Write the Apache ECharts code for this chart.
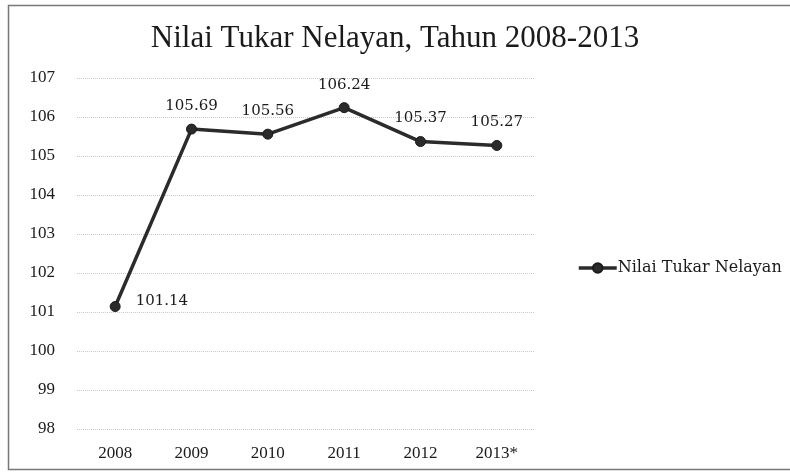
<!DOCTYPE html>
<html>
<head>
<meta charset="utf-8">
<script src="https://cdn.jsdelivr.net/npm/echarts@6/dist/echarts.min.js"></script>
<style>
html,body{margin:0;padding:0;background:#fff;}
#chart{width:790px;height:472px;}
</style>
</head>
<body>
<div id="chart"></div>
<script>
const titleText = 'Nilai Tukar Nelayan, Tahun 2008-2013';
const seriesName = 'Nilai Tukar Nelayan';
const categories = ['2008', '2009', '2010', '2011', '2012', '2013*'];
const values = [101.14, 105.69, 105.56, 106.24, 105.37, 105.27];
const yMin = 98, yMax = 107, yStep = 1;

const FONT = '"Liberation Serif", "Times New Roman", serif';
const FONT2 = '"DejaVu Serif", serif';
const chart = echarts.init(document.getElementById('chart'));

const data = values.map((v, i) => {
  if (i === 0) {
    return { value: v, label: { position: 'right', distance: 15, offset: [0, -5] } };
  }
  return v;
});

chart.setOption({
  animation: false,
  backgroundColor: '#ffffff',
  title: {
    text: titleText,
    left: 'center',
    top: 18,
    textStyle: { fontFamily: FONT, fontSize: 31, fontWeight: 'normal', color: '#1a1a1a' }
  },
  legend: {
    data: [seriesName],
    orient: 'vertical',
    left: 572,
    top: 255,
    itemWidth: 38,
    itemHeight: 12,
    itemGap: 4,
    lineStyle: { width: 3.5, color: '#2b2b2b' },
    textStyle: { fontFamily: FONT2, fontSize: 16, color: '#1a1a1a', padding: [0, 0, 0, -4] }
  },
  grid: { left: 77, right: 255, top: 78, bottom: 43 },
  xAxis: {
    type: 'category',
    data: categories,
    boundaryGap: true,
    axisLine: { show: false },
    axisTick: { show: false },
    axisLabel: { fontFamily: FONT, fontSize: 17, color: '#1a1a1a', margin: 16 }
  },
  yAxis: {
    type: 'value',
    min: yMin,
    max: yMax,
    interval: yStep,
    axisLine: { show: false },
    axisTick: { show: false },
    axisLabel: { fontFamily: FONT, fontSize: 17, color: '#1a1a1a', margin: 22 },
    splitLine: { lineStyle: { color: '#c8c8c8', type: 'dotted', width: 1 } }
  },
  series: [{
    name: seriesName,
    type: 'line',
    data: data,
    symbol: 'circle',
    symbolSize: 10,
    itemStyle: { color: '#2b2b2b', borderColor: '#1a1a1a', borderWidth: 1 },
    lineStyle: { color: '#2b2b2b', width: 3.5 },
    label: {
      show: true,
      position: 'top',
      distance: 10,
      fontFamily: FONT2,
      fontSize: 15,
      color: '#1a1a1a',
      formatter: p => p.value.toFixed(2)
    }
  }],
  graphic: [{
    type: 'rect',
    shape: { x: 8.5, y: 5.5, width: 790, height: 464 },
    style: { fill: 'none', stroke: '#777', lineWidth: 1.5 },
    silent: true
  }]
});
</script>
</body>
</html>
